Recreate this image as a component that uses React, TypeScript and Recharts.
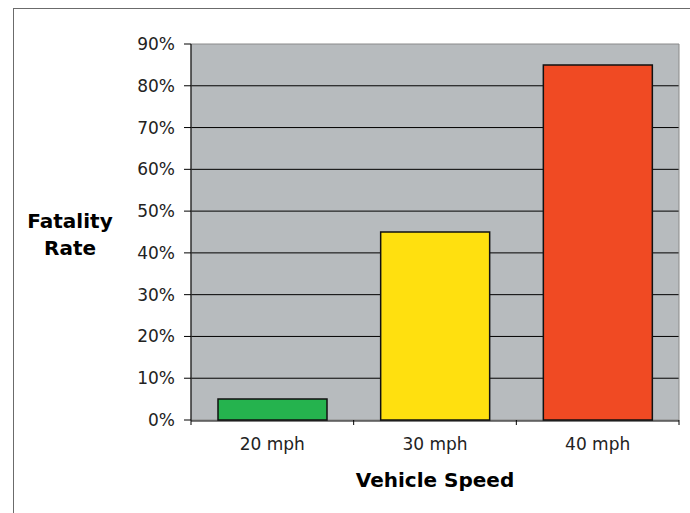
import {
  Bar,
  BarChart,
  CartesianGrid,
  Cell,
  ReferenceArea,
  XAxis,
  YAxis,
} from "recharts";

const speeds = ["20 mph", "30 mph", "40 mph"];
const fatalityRates = [5, 45, 85];
const barColors = ["#25B34E", "#FFE00F", "#F04A23"];
const rateTicks = [0, 10, 20, 30, 40, 50, 60, 70, 80, 90];
const edgeTicks = [0, 1, 2, 3];

const data = speeds.map((speed, i) => ({
  speed,
  rate: fatalityRates[i],
  pos: i + 0.5,
}));

const FONT = "'DejaVu Sans', Verdana, sans-serif";

function YTitle(props: any) {
  const vb = props.viewBox || { x: 0, y: 0, width: 0, height: 0 };
  const cx = vb.x + 70;
  return (
    <text x={cx} textAnchor="middle" fontFamily={FONT} fontSize={20} fontWeight="bold" fill="#000">
      <tspan x={cx} y={228}>Fatality</tspan>
      <tspan x={cx} y={255}>Rate</tspan>
    </text>
  );
}

function XTitle(props: any) {
  const vb = props.viewBox || { x: 0, y: 0, width: 0, height: 0 };
  return (
    <text
      x={vb.x + vb.width / 2}
      y={vb.y + 66}
      textAnchor="middle"
      fontFamily={FONT}
      fontSize={20}
      fontWeight="bold"
      fill="#000"
    >
      Vehicle Speed
    </text>
  );
}

export default function App() {
  return (
    <div style={{ position: "absolute", left: 0, top: 0, width: 690, height: 513, background: "#fff" }}>
      <div
        style={{
          position: "absolute",
          left: 13,
          top: 8,
          width: 700,
          height: 520,
          borderLeft: "1px solid #6b6b6b",
          borderTop: "1px solid #6b6b6b",
        }}
      />
      <BarChart
        width={690}
        height={513}
        data={data}
        margin={{ top: 44, right: 11, bottom: 0, left: 0 }}
        barSize={109}
        style={{ position: "absolute", left: 0, top: 0, fontFamily: FONT }}
      >
        <CartesianGrid
          xAxisId="b"
          vertical={false}
          fill="#B7BBBE"
          stroke="#000"
          strokeOpacity={1}
          horizontalValues={[10, 20, 30, 40, 50, 60, 70, 80]}
        />
        <XAxis
          xAxisId="a"
          type="number"
          dataKey="pos"
          domain={[0, 3]}
          ticks={edgeTicks}
          allowDataOverflow
          height={1}
          axisLine={false}
          tickFormatter={() => ""}
          tickSize={5}
          tickLine={{ stroke: "#000" }}
        />
        <XAxis
          xAxisId="b"
          dataKey="speed"
          height={92}
          axisLine={{ stroke: "#000" }}
          tickLine={false}
          tickSize={4}
          tickMargin={13}
          tick={{ fontSize: 17, fill: "#222", fontFamily: FONT }}
          label={<XTitle />}
        />
        <YAxis
          width={191}
          domain={[0, 90]}
          ticks={rateTicks}
          tickFormatter={(v) => `${v}%`}
          axisLine={{ stroke: "#000" }}
          tickLine={{ stroke: "#000" }}
          tickSize={7}
          tickMargin={9}
          tick={{ fontSize: 17, fill: "#222", fontFamily: FONT }}
          label={<YTitle />}
        />
        <ReferenceArea
          xAxisId="b"
          y1={0}
          y2={90}
          fill="none"
          fillOpacity={0}
          stroke="#8a8a8a"
          strokeWidth={1}
        />
        <Bar xAxisId="b" dataKey="rate" stroke="#111" strokeWidth={1.5} isAnimationActive={false}>
          {data.map((d, i) => (
            <Cell key={d.speed} fill={barColors[i]} />
          ))}
        </Bar>
      </BarChart>
    </div>
  );
}
